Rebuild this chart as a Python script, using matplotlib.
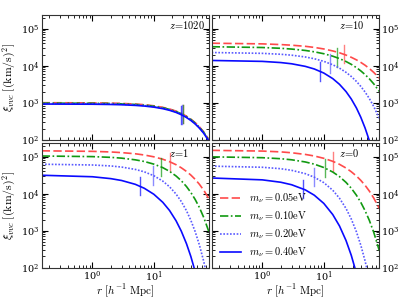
import numpy as np
import matplotlib
matplotlib.use("Agg")
import matplotlib.pyplot as plt

plt.rcParams['mathtext.fontset'] = 'cm'
plt.rcParams['font.family'] = 'serif'
plt.rcParams['font.serif'] = ['DejaVu Serif']

# r grid [h^-1 Mpc]
r_grid = [0.15, 1, 2, 3, 5, 7, 10, 14, 18, 23, 28, 34, 40, 47, 55, 65, 80]

masses = ['0.05', '0.10', '0.20', '0.40']
redshifts = ['1020', '10', '1', '0']

# xi_vvc values, one list per neutrino mass (0.05, 0.10, 0.20, 0.40 eV)
xi_z1020 = [
    [999, 988, 972, 955, 919, 882, 824, 748, 676, 592, 514, 432, 360, 289, 224, 161, 96],
    [974, 963, 948, 931, 896, 860, 803, 729, 659, 577, 501, 421, 351, 282, 218, 157, 94],
    [949, 939, 923, 907, 873, 838, 783, 711, 642, 562, 488, 410, 342, 275, 213, 153, 91],
    [919, 909, 894, 879, 845, 811, 758, 688, 622, 545, 473, 397, 331, 266, 206, 148, 88],
]
xi_z10 = [
    [40600, 39000, 37300, 35900, 33500, 31300, 28400, 25100, 22400, 19400, 16900, 14400, 12300, 10300, 8420, 6600, 4600],
    [32640, 31100, 29600, 28200, 25900, 23800, 21100, 18100, 15600, 13000, 10900, 8880, 7250, 5750, 4440, 3230, 2020],
    [22770, 21600, 20400, 19270, 17240, 15450, 13140, 10600, 8600, 6620, 5120, 3760, 2760, 1940, 1300, 790, 374],
    [13880, 13100, 12170, 11280, 9610, 8170, 6340, 4480, 3140, 2000, 1260, 718, 404, 206, 95, 35, 8],
]
xi_z1 = [
    [144200, 139600, 134300, 129000, 120000, 111200, 99300, 85400, 73400, 60800, 50150, 40000, 31900, 24500, 18060, 12360, 7000],
    [104400, 100600, 96000, 91400, 82300, 74200, 63000, 50600, 40200, 30100, 22400, 15600, 10800, 7000, 4270, 2260, 866],
    [62600, 59700, 56200, 52410, 45300, 39000, 30600, 21870, 15400, 9780, 6130, 3460, 1910, 947, 417, 146, 29],
    [31500, 28700, 25500, 22700, 17900, 14000, 9650, 5840, 3520, 1853, 968, 443, 201, 79, 27],
]
xi_z0 = [
    [148600, 142000, 134900, 127800, 115300, 104600, 90500, 75000, 62200, 49400, 39200, 30000, 22900, 16800, 11800, 7600, 3980],
    [99150, 94000, 88200, 82500, 72100, 62900, 51000, 38500, 29000, 20200, 14060, 9060, 5820, 3460, 1910, 900, 289],
    [55500, 51800, 47300, 42800, 34800, 27900, 19900, 12370, 7540, 3980, 2070, 924, 404, 151, 48],
    [26530, 23640, 20360, 17430, 12660, 9100, 5460, 2720, 1340, 541, 215, 70, 22],
]

# characteristic scale markers (r, xi at marker)
tick_r = [[30, 29.5, 28.5, 27.5], [21, 16.4, 12.8, 8.8],
          [18.3, 13.3, 9.6, 5.9], [14, 10.3, 7, 4.6]]
tick_xi = [[500, 488, 475, 460], [20500, 16500, 11500, 7000],
           [72500, 52500, 31500, 16000], [75000, 50000, 28000, 13500]]

all_xi = [xi_z1020, xi_z10, xi_z1, xi_z0]

colors = ['#ff4a4a', '#119911', '#5a5aff', '#0a0aff']
styles = [(0, (5, 2)), (0, (5, 1.5, 1, 1.5)), (0, (1, 1)), '-']

fig, axes = plt.subplots(2, 2, figsize=(3.99, 3.0), dpi=100)
fig.subplots_adjust(left=0.1045, right=0.9506, top=0.951, bottom=0.108,
                    wspace=0.014, hspace=0.024)

for k, ax in enumerate(axes.flat):
    xi = all_xi[k]
    for i in range(4):
        vals = xi[i]
        ax.plot(r_grid[:len(vals)], vals, color=colors[i], ls=styles[i], lw=1.2,
                label=r'$m_\nu=%s{\rm eV}$' % masses[i])
        tr = tick_r[k][i]
        tv = tick_xi[k][i]
        ax.plot([tr, tr], [tv / 1.78, tv * 1.78], color=colors[i], lw=1.0, alpha=0.7)
    ax.set_xscale('log')
    ax.set_yscale('log')
    ax.set_xlim(0.15, 80)
    ax.set_ylim(100, 2.4e5)
    ax.text(0.76, 0.92, r'$z\!=\!%s$' % redshifts[k], transform=ax.transAxes,
            fontsize=7.5, va='center', ha='left')
    ax.tick_params(which='both', direction='in', top=True, right=True,
                   labelsize=7, pad=1.5)
    ax.tick_params(which='major', length=4.5)
    ax.tick_params(which='minor', length=2.2)
    for s in ax.spines.values():
        s.set_color('#333333')

for ax in axes[0]:
    ax.tick_params(labelbottom=False)
for ax in axes[:, 1]:
    ax.tick_params(labelleft=False, labelright=True)
for ax in axes[:, 0]:
    ax.set_ylabel(r'$\xi_{vvc}\ [({\rm km/s})^2]$', fontsize=8.5, labelpad=2)
for ax in axes[1]:
    ax.set_xlabel(r'$r\ [h^{-1}\ {\rm Mpc}]$', fontsize=8, labelpad=-1)

axes[1, 1].legend(loc='lower left', frameon=False, fontsize=7.5, handlelength=2.0,
                  labelspacing=0.4, borderaxespad=0.4, bbox_to_anchor=(0.0, 0.0))

fig.savefig('out.png', dpi=100)
